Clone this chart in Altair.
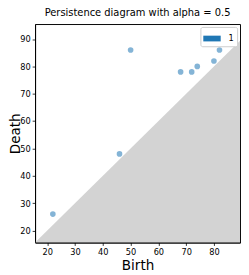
import altair as alt
import pandas as pd

# ---- data ----
births = [22, 46, 50, 68, 72, 74, 80, 82]
deaths = [26, 48, 86, 78, 78, 80, 82, 86]
dimension = ["1", "1", "1", "1", "1", "1", "1", "1"]
x_ticks = [20, 30, 40, 50, 60, 70, 80]
y_ticks = [20, 30, 40, 50, 60, 70, 80, 90]
x_limits = [15.6, 89.4]
y_limits = [15.6, 95.5]
diagonal = [15.6, 89.4]

points_df = pd.DataFrame({"Birth": births, "Death": deaths, "dim": dimension})
diag_df = pd.DataFrame({"Birth": diagonal, "Death": diagonal,
                        "base": [y_limits[0]] * len(diagonal)})

FONT = "DejaVu Sans"
W, H = 212, 226

xscale = alt.Scale(domain=x_limits, nice=False, zero=False)
yscale = alt.Scale(domain=y_limits, nice=False, zero=False)

common = dict(grid=False, labelFontSize=8.5, labelFont=FONT, labelColor="black",
              tickColor="black", domainColor="black", tickWidth=0.8,
              domainWidth=1, labelOverlap=False, titleFont=FONT,
              titleFontSize=14, titleFontWeight="normal", titleColor="black",
              titleBaseline="alphabetic")
xaxis = alt.Axis(values=x_ticks, tickSize=3, labelPadding=2.5,
                 titleX=W / 2, titleY=27.5, **common)
yaxis = alt.Axis(values=y_ticks, tickSize=3, labelPadding=2, titleAngle=270,
                 titleAlign="center", titleX=-16, titleY=H / 2, **common)

base = alt.Chart().encode(
    x=alt.X("Birth:Q", scale=xscale, axis=xaxis, title="Birth"),
    y=alt.Y("Death:Q", scale=yscale, axis=yaxis, title="Death"),
)

area = base.mark_area(color="#d3d3d3", opacity=1, clip=True).encode(
    y2="base:Q"
).properties(data=diag_df)

points = base.mark_circle(size=34, opacity=0.55, clip=True).encode(
    color=alt.Color("dim:N", scale=alt.Scale(range=["#1f77b4"]),
                    legend=alt.Legend(title=None, orient="top-right", offset=3,
                                      symbolType="M-1,-0.33H1V0.33H-1Z",
                                      symbolSize=324, symbolOpacity=1,
                                      symbolStrokeWidth=0,
                                      labelFont=FONT, labelFontSize=8.5,
                                      labelColor="black", labelOffset=8,
                                      fillColor="white", strokeColor="#cccccc",
                                      cornerRadius=2, padding=3)),
).properties(data=points_df)

chart = alt.layer(area, points).properties(
    width=W,
    height=H,
    title=alt.TitleParams("Persistence diagram with alpha = 0.5", font=FONT,
                          fontSize=10.25, fontWeight="normal", color="black",
                          anchor="middle", baseline="alphabetic", offset=0,
                          dy=2),
    padding={"left": 28, "top": 12, "right": 1, "bottom": 29},
    autosize=alt.AutoSizeParams(type="none"),
).configure_view(stroke="black", strokeWidth=1)

chart.save("out.html", embed_options={"renderer": "svg", "actions": False})
